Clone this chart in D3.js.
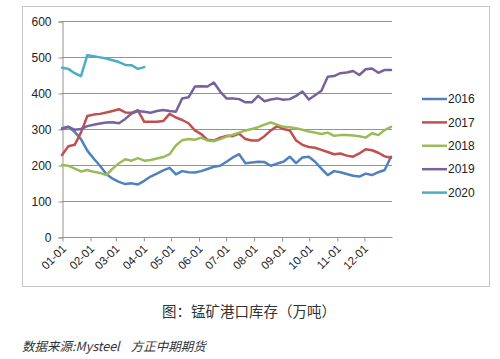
<!DOCTYPE html>
<html><head><meta charset="utf-8">
<script src="https://cdn.jsdelivr.net/npm/d3@7"></script>
<style>
html,body{margin:0;padding:0;background:#fff;}
svg{display:block;}
</style></head>
<body><svg id="c" width="500" height="359"></svg>
<script>
const years = ["2016","2017","2018","2019","2020"];
const colors = ["#4F81BD","#C0504D","#9BBB59","#7563A0","#4BACC6"];
const xTickLabels = ["01-01","02-01","03-01","04-01","05-01","06-01","07-01","08-01","09-01","10-01","11-01","12-01"];
const yTicks = [0,100,200,300,400,500,600];

const s2016 = [302,306,292,272,240,218,198,175,162,153,147,149,146,156,168,176,185,192,174,183,180,179,183,189,195,198,209,221,230,205,207,209,208,198,204,209,223,205,221,223,209,190,172,183,180,175,170,168,176,172,180,186,223];
const s2017 = [228,252,256,290,336,340,342,346,350,355,346,345,352,320,320,320,322,342,332,325,316,296,286,270,268,276,281,280,287,272,268,268,280,296,308,300,296,268,256,250,248,242,236,230,232,226,223,232,244,241,234,224,220];
const s2018 = [200,198,190,182,186,181,178,172,190,205,216,212,219,212,214,218,222,230,254,269,272,270,276,268,266,272,279,284,290,296,300,305,312,318,312,306,305,302,298,293,290,286,290,281,283,283,282,280,276,288,283,297,306];
const s2019 = [300,306,298,300,308,312,315,318,319,316,328,343,350,348,345,350,353,350,348,385,388,418,419,418,429,404,385,385,383,374,374,392,377,382,385,381,383,392,404,382,394,406,445,447,455,457,461,450,466,468,456,464,464];
const s2020 = [470,467,455,447,505,502,499,496,491,486,478,477,467,472];
const seriesValues = [s2016,s2017,s2018,s2019,s2020];

const svg = d3.select("#c");
const font = "'Liberation Sans', Arial, sans-serif";

// outer frame
svg.append("rect").attr("x",22.5).attr("y",6.5).attr("width",467).attr("height",280)
  .attr("fill","none").attr("stroke","#c8c8c8").attr("stroke-width",1);

const start = new Date(2019,0,1), end = new Date(2019,11,31);
const x = d3.scaleTime().domain([start,end]).range([62,391]);
const y = d3.scaleLinear().domain([0,600]).range([237,21]);

// gridlines
svg.append("g").selectAll("line").data(yTicks.filter(d=>d>0)).join("line")
  .attr("x1",62).attr("x2",392).attr("y1",d=>Math.round(y(d))+0.5).attr("y2",d=>Math.round(y(d))+0.5)
  .attr("stroke","#939393").attr("stroke-width",1);

// y axis
const yAxis = svg.append("g").attr("transform","translate(62.5,0.5)")
  .call(d3.axisLeft(y).tickValues(yTicks).tickSize(4).tickPadding(7).tickFormat(d3.format("d")));
yAxis.select(".domain").attr("stroke","#939393");
yAxis.selectAll(".tick line").attr("stroke","#939393");
yAxis.selectAll("text").attr("font-family",font).attr("font-size",12).attr("fill","#222");

// x axis
const monthDates = d3.timeMonth.range(start, new Date(2020,0,1));
const xAxis = svg.append("g").attr("transform","translate(0.5,237.5)")
  .call(d3.axisBottom(x).tickValues(monthDates).tickSize(4).tickSizeOuter(0)
    .tickFormat((d,i)=>xTickLabels[i]));
xAxis.select(".domain").attr("stroke","#939393").attr("d","M61.5,0H392");
xAxis.selectAll(".tick line").attr("stroke","#939393");
xAxis.selectAll("text").attr("font-family",font).attr("font-size",11.5).attr("fill","#222")
  .attr("text-anchor","end").attr("dy",0).attr("y",0)
  .attr("transform","translate(4,12) rotate(-45)");

// lines
const line = d3.line().x((d,i)=>x(d3.timeDay.offset(start,7*i))).y(d=>y(d));
svg.append("g").selectAll("path").data(seriesValues).join("path")
  .attr("d",d=>line(d)).attr("fill","none")
  .attr("stroke",(d,i)=>colors[i]).attr("stroke-width",2.5)
  .attr("stroke-linejoin","round").attr("stroke-linecap","round");

// legend
const lg = svg.append("g").selectAll("g").data(years).join("g")
  .attr("transform",(d,i)=>`translate(422,${99+i*23.4})`);
lg.append("line").attr("x1",0).attr("x2",25).attr("y1",0).attr("y2",0)
  .attr("stroke",(d,i)=>colors[i]).attr("stroke-width",2.5);
lg.append("text").attr("x",26).attr("y",0).attr("dy","0.35em").text(d=>d)
  .attr("font-family",font).attr("font-size",12).attr("fill","#222");

// caption
svg.append("text").attr("x",249).attr("y",317).attr("text-anchor","middle")
  .attr("font-family","'Noto Sans CJK SC', sans-serif").attr("font-size",14.5).attr("fill","#333")
  .text("图：锰矿港口库存（万吨）");

svg.append("text").attr("x",22).attr("y",351)
  .attr("font-family","'Noto Sans CJK SC', sans-serif").attr("font-size",12.5).attr("font-style","italic").attr("fill","#333")
  .attr("xml:space","preserve")
  .text("数据来源:Mysteel    方正中期期货");
</script></body></html>
